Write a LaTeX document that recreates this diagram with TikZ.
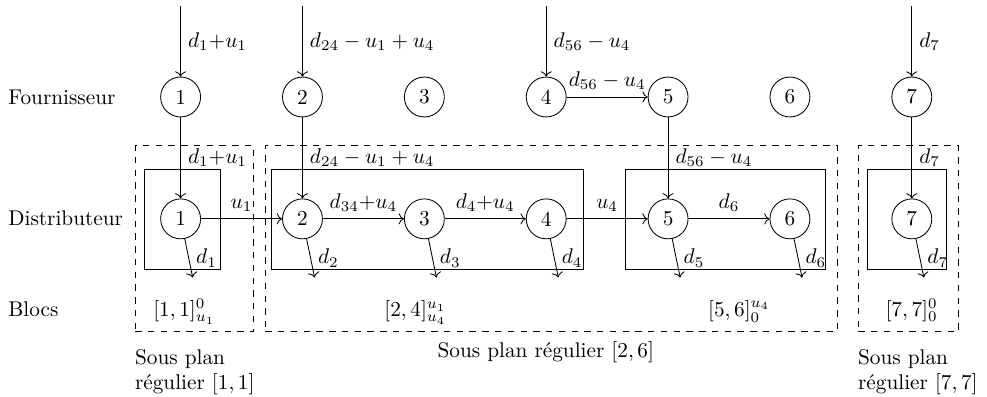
\documentclass[tikz,border=0pt]{standalone}
\usetikzlibrary{positioning, fit, arrows.meta}

\begin{document}
\begin{tikzpicture}[
  node distance=1.34cm,
  site/.style={circle, draw, minimum size=0.66cm, inner sep=0pt},
  rowlab/.style={anchor=west},
  blk/.style={rectangle, draw, inner sep=0pt},
  sp/.style={rectangle, draw, dashed, inner sep=0pt},
  splab/.style={align=left},
  arr/.style={->}
]
\useasboundingbox (-2.985,-4.942) rectangle (13.327,1.603);

% row titles
\node[rowlab] (fourn) at (-2.97,0) {Fournisseur};
\node[rowlab] (distr) at (-2.97,-2) {Distributeur};
\node[anchor=base west] (blocs) at (-2.97,-3.63) {Blocs};

% suppliers
\node[site] (f1) at (0,0) {1};
\node[site, right=of f1] (f2) {2};
\node[site, right=of f2] (f3) {3};
\node[site, right=of f3] (f4) {4};
\node[site, right=of f4] (f5) {5};
\node[site, right=of f5] (f6) {6};
\node[site, right=of f6] (f7) {7};

% distributors
\node[site, below=of f1] (d1) {1};
\node[site, below=of f2] (d2) {2};
\node[site, below=of f3] (d3) {3};
\node[site, below=of f4] (d4) {4};
\node[site, below=of f5] (d5) {5};
\node[site, below=of f6] (d6) {6};
\node[site, below=of f7] (d7) {7};

% blocks and sub plans
\node[blk, fit={(-0.6,-1.2) (0.65,-2.85)}] (blk1) {};
\node[blk, fit={(1.5,-1.2) (6.65,-2.85)}] (blk2) {};
\node[blk, fit={(7.35,-1.2) (10.65,-2.85)}] (blk3) {};
\node[blk, fit={(11.35,-1.2) (12.65,-2.85)}] (blk4) {};
\node[sp, fit={(-0.75,-0.8) (1.2,-3.88)}] (sp1) {};
\node[sp, fit={(1.4,-0.8) (10.85,-3.88)}] (sp2) {};
\node[sp, fit={(11.2,-0.8) (12.85,-3.88)}] (sp3) {};

\node[anchor=base] (b1) at (0.06,-3.63) {$[1,1]^{0}_{u_1}$};
\node[anchor=base] (b2) at (3.88,-3.63) {$[2,4]^{u_1}_{u_4}$};
\node[anchor=base] (b3) at (9.23,-3.63) {$[5,6]^{u_4}_{0}$};
\node[anchor=base] (b4) at (12.08,-3.63) {$[7,7]^{0}_{0}$};

\node[splab, below right=0.16cm and -0.12cm of sp1.south west] (spl1) {Sous plan\\r\'egulier $[1,1]$};
\node[below=0.03cm of sp2.south, xshift=-0.09cm] (spl2) {Sous plan r\'egulier $[2,6]$};
\node[splab, below right=0.16cm and -0.12cm of sp3.south west] (spl3) {Sous plan\\r\'egulier $[7,7]$};

% incoming demand
\coordinate[above=1.5cm of f1.center] (in1);
\coordinate[above=1.5cm of f2.center] (in2);
\coordinate[above=1.5cm of f4.center] (in4);
\coordinate[above=1.5cm of f7.center] (in7);
\draw[arr] (in1) -- node[right] {$d_1{+}u_1$} (f1);
\draw[arr] (in2) -- node[right] {$d_{24} - u_1 + u_4$} (f2);
\draw[arr] (in4) -- node[right] {$d_{56} - u_4$} (f4);
\draw[arr] (in7) -- node[right] {$d_7$} (f7);
\draw[arr] (f4) -- node[above] {$d_{56} - u_4$} (f5);

% supplier to distributor
\draw[arr] (f1) -- node[right] {$d_1{+}u_1$} (d1);
\draw[arr] (f2) -- node[right] {$d_{24} - u_1 + u_4$} (d2);
\draw[arr] (f5) -- node[right] {$d_{56} - u_4$} (d5);
\draw[arr] (f7) -- node[right] {$d_7$} (d7);

% between distributors
\draw[arr] (d1) -- node[above] {$u_1$} (d2);
\draw[arr] (d2) -- node[above] {$d_{34}{+}u_4$} (d3);
\draw[arr] (d3) -- node[above] {$d_4{+}u_4$} (d4);
\draw[arr] (d4) -- node[above] {$u_4$} (d5);
\draw[arr] (d5) -- node[above] {$d_6$} (d6);

% outgoing demand
\coordinate (o1) at ([shift={(0.2,-0.97)}]d1.center);
\coordinate (o2) at ([shift={(0.2,-0.97)}]d2.center);
\coordinate (o3) at ([shift={(0.2,-0.97)}]d3.center);
\coordinate (o4) at ([shift={(0.2,-0.97)}]d4.center);
\coordinate (o5) at ([shift={(0.2,-0.97)}]d5.center);
\coordinate (o6) at ([shift={(0.2,-0.97)}]d6.center);
\coordinate (o7) at ([shift={(0.2,-0.97)}]d7.center);
\draw[arr] (d1) -- node[right] {$d_1$} (o1);
\draw[arr] (d2) -- node[right] {$d_2$} (o2);
\draw[arr] (d3) -- node[right] {$d_3$} (o3);
\draw[arr] (d4) -- node[right] {$d_4$} (o4);
\draw[arr] (d5) -- node[right] {$d_5$} (o5);
\draw[arr] (d6) -- node[right] {$d_6$} (o6);
\draw[arr] (d7) -- node[right] {$d_7$} (o7);
\end{tikzpicture}
\end{document}
